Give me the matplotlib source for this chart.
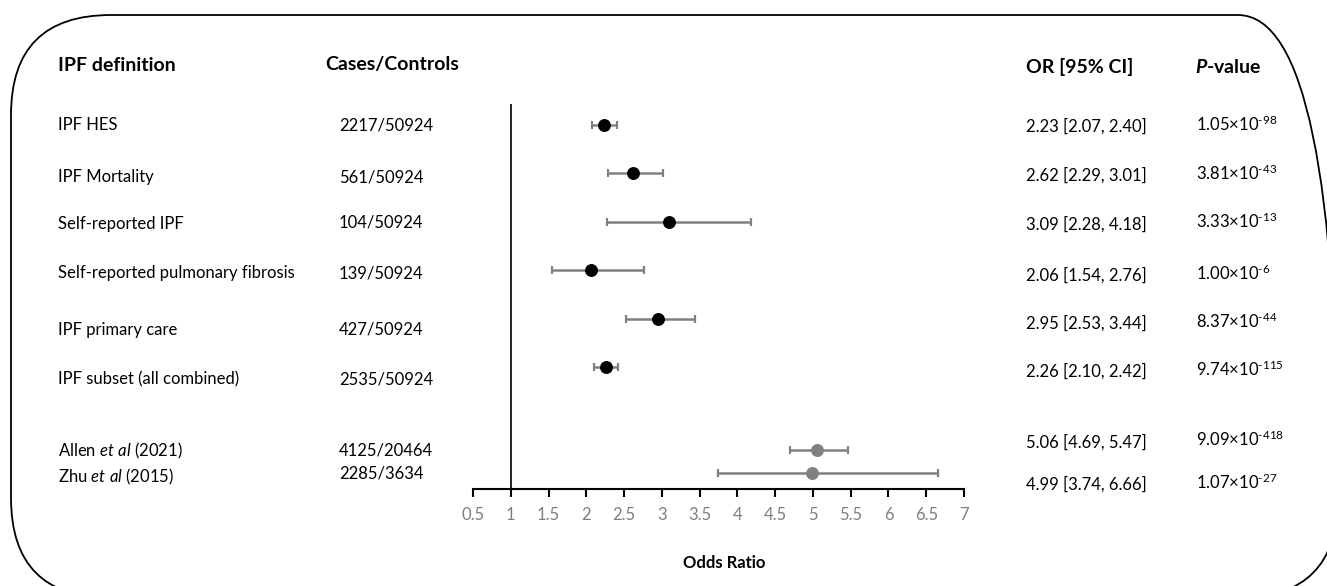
import matplotlib
matplotlib.use("Agg")
import matplotlib.pyplot as plt
from matplotlib.patches import FancyBboxPatch
from matplotlib.transforms import blended_transform_factory
import numpy as np

plt.rcParams['font.family'] = ['Lato', 'DejaVu Sans']
plt.rcParams['mathtext.fontset'] = 'custom'
plt.rcParams['mathtext.rm'] = 'Lato'
plt.rcParams['mathtext.it'] = 'Lato:italic'
plt.rcParams['mathtext.bf'] = 'Lato:bold'
plt.rcParams['mathtext.bfit'] = 'Lato:italic:bold'

# data
labels = ["IPF HES", "IPF Mortality", "Self-reported IPF",
          "Self-reported pulmonary fibrosis", "IPF primary care",
          "IPF subset (all combined)",
          "Allen $\\it{et\\ al}$ (2021)", "Zhu $\\it{et\\ al}$ (2015)"]
cases = ["2217/50924", "561/50924", "104/50924", "139/50924", "427/50924",
         "2535/50924", "4125/20464", "2285/3634"]
odds = [2.23, 2.62, 3.09, 2.06, 2.95, 2.26, 5.06, 4.99]
ci_low = [2.07, 2.29, 2.28, 1.54, 2.53, 2.10, 4.69, 3.74]
ci_high = [2.40, 3.01, 4.18, 2.76, 3.44, 2.42, 5.47, 6.66]
pvals = ["1.05×10$^{\\text{-98}}$", "3.81×10$^{\\text{-43}}$", "3.33×10$^{\\text{-13}}$",
         "1.00×10$^{\\text{-6}}$", "8.37×10$^{\\text{-44}}$", "9.74×10$^{\\text{-115}}$",
         "9.09×10$^{\\text{-418}}$", "1.07×10$^{\\text{-27}}$"]
is_ukb = [True] * 6 + [False] * 2

# row layout (in row units, 0 = first row)
rows = np.array([0, 1, 2, 3, 4, 5, 6.71, 7.19])
label_rows = [0, 1.07, 2.04, 3.06, 4.24, 5.25, 6.73, 7.27]
case_rows = [0.02, 1.09, 2.02, 3.06, 4.22, 5.25, 6.73, 7.19]
or_rows = [0.04, 1.05, 2.05, 3.12, 4.1, 5.1, 6.55, 7.43]
header_row = -1.22

W, H = 1327, 586
fig = plt.figure(figsize=(W / 100, H / 100), dpi=100)

# rounded border (pixel coords, y up)
bg = fig.add_axes([0, 0, 1, 1], zorder=0)
bg.set_xlim(0, W)
bg.set_ylim(0, H)
bg.axis('off')
bg.add_patch(FancyBboxPatch((11, H - 598), 1327, 583,
                            boxstyle="round,pad=0,rounding_size=100",
                            fc='none', ec='black', lw=1.3))

ax = fig.add_axes([473 / W, 1 - 489 / H, (964 - 473) / W, (489 - 104) / H], zorder=1)
ax.patch.set_alpha(0)
ax.set_xlim(0.5, 7)
ax.set_ylim(7.52, -0.43)
ax.axvline(1, color='black', lw=1.2, zorder=1)

for i in range(len(odds)):
    col = 'black' if is_ukb[i] else '#808080'
    ax.errorbar(odds[i], rows[i],
                xerr=[[odds[i] - ci_low[i]], [ci_high[i] - odds[i]]],
                fmt='o', color=col, ms=8.3, ecolor='#808080', elinewidth=1.8,
                capsize=3, capthick=1.6, zorder=3)

for s in ['left', 'top', 'right']:
    ax.spines[s].set_visible(False)
ax.spines['bottom'].set_linewidth(1.5)
ax.set_yticks([])
ax.set_xticks(np.arange(0.5, 7.01, 0.5))
ax.set_xticklabels(['%g' % v for v in np.arange(0.5, 7.01, 0.5)])
ax.tick_params(axis='x', direction='out', length=6, width=1.5,
               labelcolor='#7f7f7f', labelsize=12, pad=7)
fig.text(724 / W, 1 - 563 / H, "Odds Ratio", ha='center', va='center',
         fontsize=12, fontweight='bold')

tr = blended_transform_factory(fig.transFigure, ax.transData)
hdr = dict(transform=tr, va='center', ha='left', fontsize=14, fontweight='bold')
ax.text(58 / W, header_row, "IPF definition", **hdr)
ax.text(325 / W, header_row - 0.02, "Cases/Controls", **hdr)
ax.text(1026 / W, header_row + 0.02, "OR [95% CI]", **hdr)
ax.text(1195 / W, header_row + 0.02, "$\\mathbfit{P}$-value", **hdr)

body = dict(transform=tr, va='center', ha='left', fontsize=12)
for i in range(len(labels)):
    ax.text(58 / W, label_rows[i], labels[i], **body)
    ax.text(339 / W, case_rows[i], cases[i], **body)
    ax.text(1026 / W, or_rows[i], "%.2f [%.2f, %.2f]" % (odds[i], ci_low[i], ci_high[i]), **body)
    ax.text(1196 / W, or_rows[i] - 0.05, pvals[i], **body)

fig.savefig("out.png", dpi=100)
